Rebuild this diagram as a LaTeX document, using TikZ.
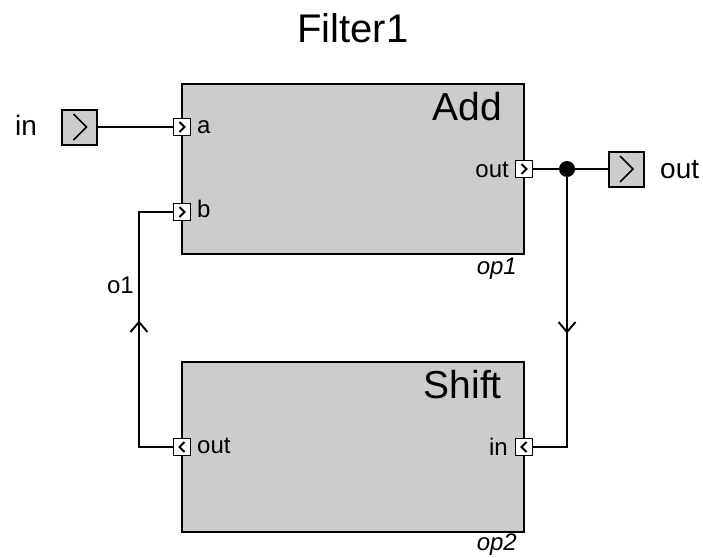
\documentclass[tikz,border=0pt]{standalone}
\usepackage{fontspec}
\setmainfont{Liberation Sans}
\usetikzlibrary{calc}
\definecolor{boxgray}{HTML}{CCCCCC}
\tikzset{
  block/.style={draw=black, line width=2.4pt, fill=boxgray, inner sep=0pt},
  port/.style={draw=black, line width=1.8pt, fill=white, minimum width=17pt, minimum height=17pt, inner sep=0pt},
  extport/.style={draw=black, line width=2pt, fill=boxgray, minimum width=35pt, minimum height=35pt, inner sep=0pt},
  wire/.style={draw=black, line width=1.9pt},
  chev/.style={draw=black, line width=2pt},
  txt/.style={inner sep=0pt, font=\fontsize{24}{28}\selectfont},
  bigtxt/.style={inner sep=0pt, font=\fontsize{39}{46}\selectfont},
  exttxt/.style={inner sep=0pt, font=\fontsize{28}{33}\selectfont},
}
\begin{document}
\begin{tikzpicture}[x=1pt,y=-1pt]
\useasboundingbox (0,0) rectangle (703,557);
% title
\node[inner sep=0pt, font=\fontsize{40}{48}\selectfont, anchor=base] (title) at (353,42) {Filter1};
% blocks
\node[block, minimum width=342pt, minimum height=170pt] (add) at (353,169) {};
\node[block, minimum width=342pt, minimum height=170pt] (shift) at (353,447) {};
\node[bigtxt, anchor=base east] (addlbl) at (502,120) {Add};
\node[bigtxt, anchor=base east] (shiftlbl) at (502,398) {Shift};
\node[txt, anchor=base east] (op1) at (517,274) {\itshape op1};
\node[txt, anchor=base east] (op2) at (517,550) {\itshape op2};
% ports
\node[port] (pa) at (182,127) {};
\node[port] (pb) at (182,212) {};
\node[port] (pao) at (524,169) {};
\node[port] (psi) at (524,447) {};
\node[port] (pso) at (182,447) {};
\foreach \p in {pa,pb,pao}{
  \draw[chev] ($(\p.center)+(-2.5,-5)$) -- ($(\p.center)+(2.5,0)$) -- ($(\p.center)+(-2.5,5)$);
}
\foreach \p in {psi,pso}{
  \draw[chev] ($(\p.center)+(2.5,-5)$) -- ($(\p.center)+(-2.5,0)$) -- ($(\p.center)+(2.5,5)$);
}
\node[txt, anchor=base west] (la) at (197,133) {a};
\node[txt, anchor=base west] (lb) at (197,217) {b};
\node[txt, anchor=base east] (lao) at (509,177) {out};
\node[txt, anchor=base east] (lsi) at (508,455) {in};
\node[txt, anchor=base west] (lso) at (197,453) {out};
% external ports
\node[extport] (inp) at (79.5,127) {};
\node[extport] (outp) at (626,169) {};
\foreach \p in {inp,outp}{
  \draw[black, line width=1.5pt] ($(\p.center)+(-6,-13)$) -- ($(\p.center)+(7,0)$) -- ($(\p.center)+(-6,13)$);
}
\node[exttxt, anchor=base west] (lin) at (15,135) {in};
\node[exttxt, anchor=base west] (lout) at (660,178) {out};
% junction
\coordinate (j) at (567,169);
\coordinate (jd) at (567,447);
\coordinate (m1) at (567,332);
\coordinate (cb) at (139,212);
\coordinate (cs) at (139,447);
\coordinate (m2) at (139,322);
% wires
\draw[wire] (inp.east) -- (pa.west);
\draw[wire] (pao.east) -- (outp.west);
\draw[wire] (j) -- (jd) -- (psi.east);
\draw[wire] (pso.west) -- (cs) -- (cb) -- (pb.west);
\fill[black] (j) circle (8pt);
% direction marks
\draw[wire] ($(m1)+(-8.5,-10)$) -- (m1) -- ($(m1)+(8.5,-10)$);
\draw[wire] ($(m2)+(-8.5,10)$) -- (m2) -- ($(m2)+(8.5,10)$);
\node[txt, anchor=base east] (o1) at (134,293) {o1};
\end{tikzpicture}
\end{document}
